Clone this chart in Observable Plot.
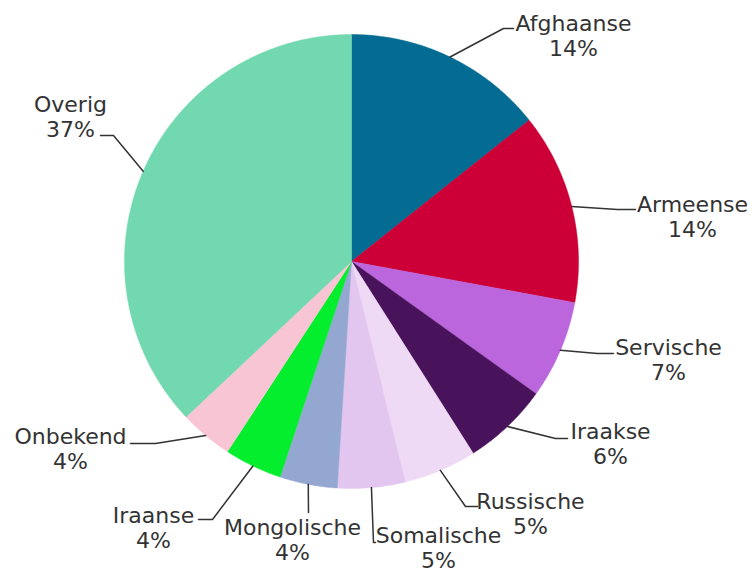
<!DOCTYPE html>
<html>
<head>
<meta charset="utf-8">
<script src="https://cdn.jsdelivr.net/npm/d3@7"></script>
<script src="https://cdn.jsdelivr.net/npm/@observablehq/plot@0.6"></script>
<style>
  html, body { margin: 0; padding: 0; background: #fff; }
  #chart svg { display: block; }
</style>
</head>
<body>
<div id="chart"></div>
<script>
// ---- data ----
const categories = ["Afghaanse", "Armeense", "Servische", "Iraakse", "Russische", "Somalische", "Mongolische", "Iraanse", "Onbekend", "Overig"];
const shares = [14.3, 13.6, 7.0, 6.1, 5.2, 4.8, 4.1, 4.1, 3.8, 37.0];
const colors = ["#046B92", "#CC0036", "#BB66DD", "#48135A", "#EEDAF5", "#E3C6F0", "#93A7D0", "#05EE2E", "#F8C5D5", "#72D8AF"];

// ---- layout (pixels) ----
const W = 752, H = 573;
const cx = 351, cy = 261, R = 227;
// label layout: elbow point, line end, text block center
const labelLayout = {
  "Afghaanse":   {elbow: [503, 28],  end: [513, 28],  text: [573, 35]},
  "Armeense":    {elbow: [617, 209], end: [635, 209], text: [692, 216]},
  "Servische":   {elbow: [597, 353], end: [613, 353], text: [668, 359]},
  "Iraakse":     {elbow: [555, 438], end: [567, 438], text: [610, 443]},
  "Russische":   {elbow: [465, 506], end: [477, 506], text: [530, 513]},
  "Somalische":  {elbow: [373, 542], end: [375, 542], text: [438, 547]},
  "Mongolische": {elbow: [308, 512], end: [308, 512], text: [292, 539]},
  "Iraanse":     {elbow: [212, 519], end: [198, 519], text: [153, 527]},
  "Onbekend":    {elbow: [155, 443], end: [130, 443], text: [70, 448]},
  "Overig":      {elbow: [113, 135], end: [100, 135], text: [70, 116]}
};

const total = d3.sum(shares);
const pt = (a, r) => [cx + r * Math.sin(a), cy - r * Math.cos(a)];

// slice polygons
const slicePts = [];
const leaderPts = [];
const labels = [];
let acc = 0;
categories.forEach((name, i) => {
  const a0 = acc / total * 2 * Math.PI;
  acc += shares[i];
  const a1 = acc / total * 2 * Math.PI;
  const steps = Math.max(2, Math.ceil((a1 - a0) / (Math.PI / 360)));
  slicePts.push({name, x: cx, y: cy});
  for (let k = 0; k <= steps; k++) {
    const [x, y] = pt(a0 + (a1 - a0) * k / steps, R);
    slicePts.push({name, x, y});
  }
  slicePts.push({name, x: cx, y: cy});
  const mid = (a0 + a1) / 2;
  const [sx, sy] = pt(mid, R);
  const L = labelLayout[name];
  leaderPts.push({name, x: sx, y: sy});
  leaderPts.push({name, x: L.elbow[0], y: L.elbow[1]});
  leaderPts.push({name, x: L.end[0], y: L.end[1]});
  labels.push({name, x: L.text[0], y: L.text[1], label: name + "\n" + Math.round(shares[i]) + "%"});
});

const chart = Plot.plot({
  width: W,
  height: H,
  margin: 0,
  x: {type: "identity", axis: null},
  y: {type: "identity", axis: null},
  color: {domain: categories, range: colors},
  style: {fontFamily: "DejaVu Sans, Verdana, sans-serif", background: "#fff"},
  marks: [
    Plot.line(slicePts, {x: "x", y: "y", z: "name", fill: "name", stroke: "name", strokeWidth: 0.5, curve: "linear"}),
    Plot.line(leaderPts, {x: "x", y: "y", z: "name", stroke: "#333", strokeWidth: 1.5, curve: "linear"}),
    Plot.text(labels, {x: "x", y: "y", text: "label", fontSize: 22, lineHeight: 1.16, fill: "#333", textAnchor: "middle"})
  ]
});
document.getElementById("chart").appendChild(chart);
</script>
</body>
</html>
